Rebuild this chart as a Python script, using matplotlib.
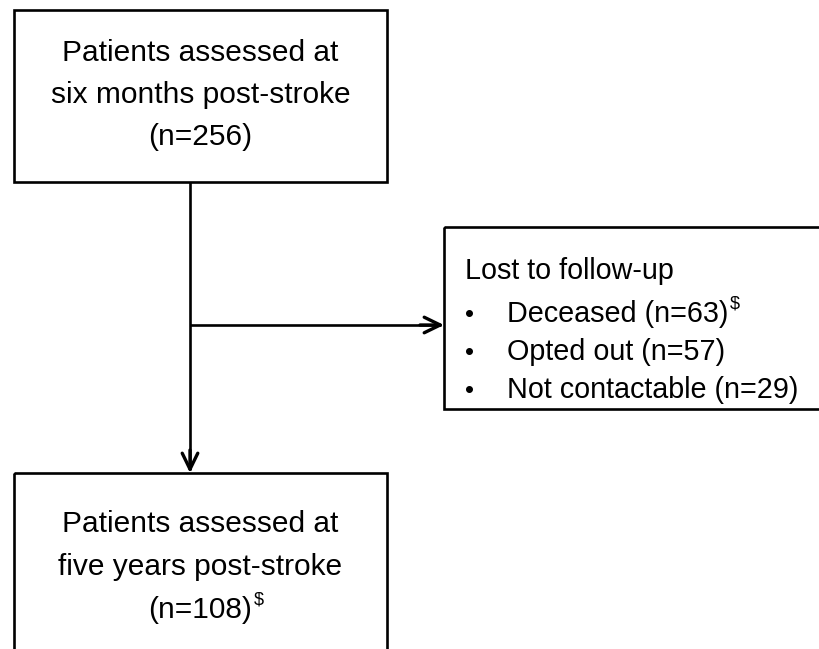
import matplotlib
matplotlib.use("Agg")
import matplotlib.pyplot as plt
from matplotlib.patches import Rectangle

plt.rcParams['font.family'] = ['Liberation Sans', 'DejaVu Sans']

top_lines = ["Patients assessed at", "six months post-stroke", "(n=256)"]
bottom_lines = ["Patients assessed at", "five years post-stroke", "(n=108)"]
lost_title = "Lost to follow-up"
lost_items = ["Deceased (n=63)", "Opted out (n=57)", "Not contactable (n=29)"]
lost_marks = ["$", "", ""]
bottom_mark = "$"

W, H = 820, 649
fig = plt.figure(figsize=(W / 100, H / 100), dpi=100)
ax = fig.add_axes([0, 0, 1, 1])
ax.set_xlim(0, W)
ax.set_ylim(H, 0)
ax.axis('off')

lw = 1.9
fs = 21.5
fs_r = 20.7
sup_fs = 13
renderer = fig.canvas.get_renderer()

# boxes
ax.add_patch(Rectangle((14, 10), 373, 172, fill=False, lw=lw, ec='black'))
ax.add_patch(Rectangle((14, 473), 373, 190, fill=False, lw=lw, ec='black', clip_on=False))
ax.add_patch(Rectangle((444, 227), 400, 182, fill=False, lw=lw, ec='black', clip_on=False))

arrow = dict(arrowstyle='->,head_length=11.5,head_width=5.6', mutation_scale=1,
             lw=lw + 0.5, color='black', shrinkA=0, shrinkB=0)

# connector lines
ax.plot([190, 190], [182, 470], color='black', lw=lw, solid_capstyle='butt')
ax.annotate('', xy=(190, 473), xytext=(190, 450), arrowprops=arrow)
ax.plot([190, 441], [325, 325], color='black', lw=lw, solid_capstyle='butt')
ax.annotate('', xy=(444, 325), xytext=(420, 325), arrowprops=arrow)


def add_mark(t, yb, mark):
    bb = t.get_window_extent(renderer=renderer)
    x1 = ax.transData.inverted().transform((bb.x1, bb.y0))[0]
    ax.text(x1 + 1.5, yb - 13, mark, ha='left', va='baseline', fontsize=sup_fs)


# top box text
for txt, yb in zip(top_lines, [61, 103, 145]):
    ax.text(200.5, yb, txt, ha='center', va='baseline', fontsize=fs)

# bottom box text
for txt, yb in zip(bottom_lines, [532, 575, 618]):
    bt = ax.text(200.5, yb, txt, ha='center', va='baseline', fontsize=fs)
add_mark(bt, 618, bottom_mark)

# right box text
ax.text(465, 279, lost_title, ha='left', va='baseline', fontsize=fs_r)
for txt, mark, yb in zip(lost_items, lost_marks, [322, 360, 398]):
    ax.text(470, yb, "\u2022", ha='center', va='baseline', fontsize=fs_r * 0.9)
    t = ax.text(507, yb, txt, ha='left', va='baseline', fontsize=fs_r)
    if mark:
        add_mark(t, yb, mark)

fig.savefig('out.png', dpi=100, facecolor='white')
